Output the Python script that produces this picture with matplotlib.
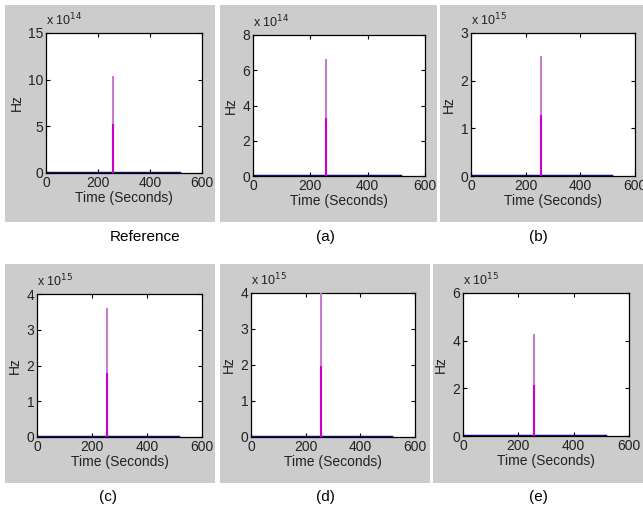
import numpy as np
import matplotlib.pyplot as plt
from matplotlib.patches import Rectangle
from matplotlib.ticker import FuncFormatter

# panel data (Hz), spike sits at the middle sample of a 512-second record
panel_labels = ['Reference', '(a)', '(b)', '(c)', '(d)', '(e)']
exponents = [14, 14, 15, 15, 15, 15]
y_max = [15e14, 8e14, 3e15, 4e15, 4e15, 6e15]
y_step = [5e14, 2e14, 1e15, 1e15, 1e15, 2e15]
peak_full = [10.4e14, 6.65e14, 2.52e15, 3.6e15, 4.0e15, 4.3e15]
peak_half = [5.2e14, 3.3e14, 1.27e15, 1.8e15, 1.98e15, 2.15e15]
spike_time = 256
record_end = 512
baseline = [0.0, 0.0]
x_ticks = [0, 200, 400, 600]

W, H = 643, 512
fig = plt.figure(figsize=(W / 100, H / 100), dpi=100)
fig.patch.set_facecolor('white')

# pixel boxes: gray panel (x0, y0, x1, y1), axes (x0, y0, x1, y1), caption (x, y)
gray_boxes = [(5, 5, 215, 222), (220, 5, 437, 222), (440, 5, 643, 222),
              (5, 264, 215, 483), (220, 264, 430, 483), (433, 264, 643, 483)]
axes_boxes = [(46, 33, 202, 173), (253, 35, 425, 176), (471, 33, 635, 176),
              (37, 294, 202, 437), (251, 293, 415, 437), (463, 293, 629, 436)]
captions = [(145, 237), (325, 237), (538, 237), (108, 497), (325, 497), (538, 497)]

tick_font = ['Liberation Sans Narrow', 'Liberation Sans', 'DejaVu Sans']

for i in range(6):
    gx0, gy0, gx1, gy1 = gray_boxes[i]
    fig.patches.append(Rectangle((gx0 / W, 1 - gy1 / H), (gx1 - gx0) / W, (gy1 - gy0) / H,
                                 transform=fig.transFigure, facecolor='#cccccc',
                                 edgecolor='none', zorder=-5))
    ax0, ay0, ax1, ay1 = axes_boxes[i]
    ax = fig.add_axes([ax0 / W, 1 - ay1 / H, (ax1 - ax0) / W, (ay1 - ay0) / H])
    ax.set_zorder(2)
    ax.set_facecolor('white')

    ax.plot([0, record_end], baseline, color='#10108a', lw=2.5, zorder=2)
    ax.vlines(spike_time, 0, peak_full[i], color='#c77dcc', lw=1.5, zorder=3)
    ax.vlines(spike_time, 0, peak_half[i], color='#cc00cc', lw=1.5, zorder=4)

    ax.set_xlim(0, 600)
    ax.set_ylim(0, y_max[i])
    ax.set_xticks(x_ticks)
    ax.set_yticks(np.arange(0, y_max[i] + 1, y_step[i]))
    scale = 10.0 ** exponents[i]
    ax.yaxis.set_major_formatter(FuncFormatter(lambda v, p, s=scale: f'{v / s:g}'))
    ax.tick_params(direction='in', top=True, right=True, length=3, width=0.8,
                   labelsize=10, pad=2, colors='black')
    for lab in ax.get_xticklabels() + ax.get_yticklabels():
        lab.set_family(tick_font)
        lab.set_color('#222222')
    for sp in ax.spines.values():
        sp.set_linewidth(0.9)
        sp.set_color('black')

    ax.set_xlabel('Time (Seconds)', family=tick_font, fontsize=10, labelpad=1, color='#222222')
    ax.set_ylabel('Hz', family=tick_font, fontsize=10, labelpad=3, color='#222222')
    ax.text(0.0, 1.03, r'x 10$^{%d}$' % exponents[i], transform=ax.transAxes,
            family=tick_font, fontsize=9, ha='left', va='bottom', color='#222222')

    cx, cy = captions[i]
    fig.text(cx / W, 1 - cy / H, panel_labels[i], ha='center', va='center',
             fontsize=11, family=['Liberation Sans', 'DejaVu Sans'], color='black')

fig.savefig('out.png', dpi=100, facecolor='white')
